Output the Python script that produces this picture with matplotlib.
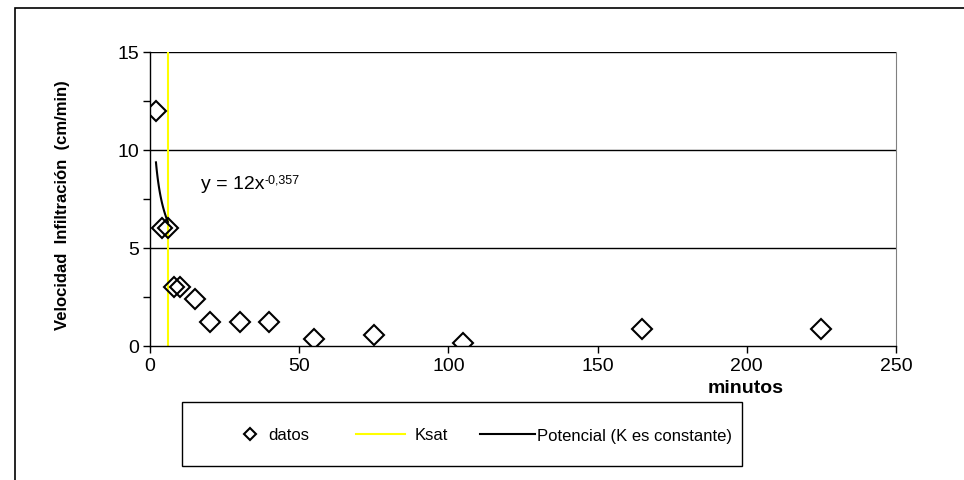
import numpy as np
import matplotlib.pyplot as plt
from matplotlib.lines import Line2D
from matplotlib.patches import Rectangle

plt.rcParams['font.family'] = ['Liberation Sans', 'DejaVu Sans']

# datos medidos
minutos = [2, 4, 6, 8, 10, 15, 20, 30, 40, 55, 75, 105, 165, 225]
velocidad = [12.0, 6.0, 6.0, 3.0, 3.0, 2.4, 1.2, 1.2, 1.2, 0.36, 0.56, 0.15, 0.87, 0.87]
ksat = 6
coef_a = 12
coef_b = -0.357
x_curva = [2, 6]

W, H = 964, 481
fig = plt.figure(figsize=(W / 100, H / 100), dpi=100)
ax = fig.add_axes([150/W, 1-347/H, 746/W, 294/H])

# marco exterior y marco de la leyenda
fig.patches.append(Rectangle((15/W, -0.1), 1.2, 1.1 - 9/H, transform=fig.transFigure,
                             fill=False, edgecolor='black', linewidth=1.2))
fig.patches.append(Rectangle((182/W, 1-467/H), 560/W, 64/H, transform=fig.transFigure,
                             fill=False, edgecolor='black', linewidth=1))

for yv in [5, 10, 15]:
    ax.axhline(yv, color='black', linewidth=1, zorder=1)

ax.plot([ksat, ksat], [0, 15], color='#ffff00', linewidth=1.5, zorder=2)

xc = np.linspace(x_curva[0], x_curva[1], 50)
ax.plot(xc, coef_a * xc ** coef_b, color='black', linewidth=1.5, zorder=3)

ax.plot(minutos, velocidad, linestyle='none', marker='D', markersize=10,
        markerfacecolor='none', markeredgecolor='black', markeredgewidth=1.5, zorder=4)

# ecuacion de la tendencia
t = ax.text(17, 8.3, 'y = 12x', fontsize=14, va='center')
ax.annotate('-0,357', xy=(1, 1), xycoords=t, xytext=(0.5, 1), textcoords='offset points',
            fontsize=9, va='top', ha='left')

ax.set_xlim(0, 250)
ax.set_ylim(0, 15)
ax.set_xticks([0, 50, 100, 150, 200, 250])
ax.set_yticks([0, 5, 10, 15])
ax.set_yticks([2.5, 7.5, 12.5], minor=True)
ax.tick_params(axis='both', labelsize=14, direction='out', length=5, width=1, pad=3)
ax.tick_params(axis='y', which='minor', direction='out', length=5, width=1)
ax.spines['top'].set_visible(False)
ax.spines['right'].set_color('#808080')
ax.spines['left'].set_linewidth(1)
ax.spines['bottom'].set_linewidth(1)

ax.set_ylabel('Velocidad  Infiltración  (cm/min)', fontsize=12, fontweight='bold')
ax.yaxis.set_label_coords(-0.107, 0.483)
fig.text(746/W, 1-389/H, 'minutos', fontsize=14, fontweight='bold', ha='center', va='center')

# leyenda: una entrada por posicion
fs = 12
em = fs * 100 / 72
entradas = [
    (Line2D([], [], linestyle='none', marker='D', markersize=6, markerfacecolor='none',
            markeredgecolor='black', markeredgewidth=1.5), 'datos', 238, 24, 6),
    (Line2D([], [], color='#ffff00', linewidth=1.5), 'Ksat', 356, 49, 10),
    (Line2D([], [], color='black', linewidth=1.5), 'Potencial (K es constante)', 480, 55, 2),
]
for h, lab, x0, largo, sep in entradas:
    fig.legend([h], [lab], loc='center left', bbox_to_anchor=(x0/W, 1-436/H), fontsize=fs,
               frameon=False, borderpad=0, borderaxespad=0, handlelength=largo/em,
               handletextpad=sep/em)

fig.savefig('out.png', dpi=100)
